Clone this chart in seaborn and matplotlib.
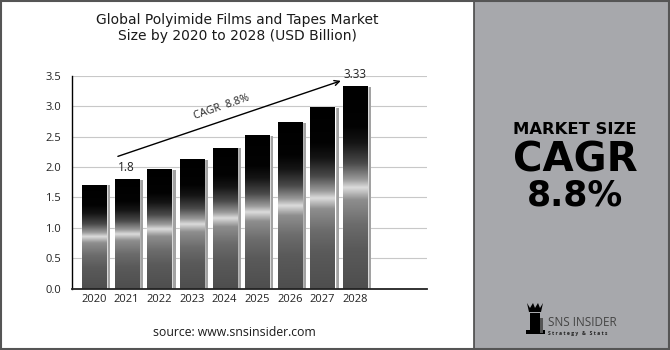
import numpy as np
import pandas as pd
import matplotlib
matplotlib.use("Agg")
import matplotlib.pyplot as plt
from matplotlib.patches import Rectangle, Polygon
from matplotlib.colors import LinearSegmentedColormap
import seaborn as sns

years = ["2020", "2021", "2022", "2023", "2024", "2025", "2026", "2027", "2028"]
values = [1.71, 1.80, 1.96, 2.13, 2.32, 2.52, 2.74, 2.98, 3.33]
y_ticks = [0.0, 0.5, 1.0, 1.5, 2.0, 2.5, 3.0, 3.5]
title = "Global Polyimide Films and Tapes Market\nSize by 2020 to 2028 (USD Billion)"
source = "source: www.snsinsider.com"
cagr_label = "CAGR  8.8%"
labelled = {"2021": "1.8", "2028": "3.33"}

sns.set_theme(style="white")
plt.rcParams["font.family"] = ["Open Sans", "DejaVu Sans"]

fig = plt.figure(figsize=(6.7, 3.5), dpi=100)
fig.patch.set_facecolor("white")

# right grey panel
fig.add_artist(Rectangle((474 / 670, 0), 1 - 474 / 670, 1, transform=fig.transFigure,
                         facecolor="#a7a8ac", edgecolor="#4a4a4a", lw=1.2, zorder=0))
# outer border
fig.add_artist(Rectangle((0.001, 0.002), 0.998, 0.996, transform=fig.transFigure,
                         facecolor="none", edgecolor="#555555", lw=1.5, zorder=5))

ax = fig.add_axes([72 / 670, (350 - 288.7) / 350, (427 - 72) / 670, 213 / 350])
ax.set_facecolor("none")

df = pd.DataFrame({"year": years, "value": values})
sns.barplot(data=df, x="year", y="value", ax=ax, width=0.74, color="black",
            saturation=1, zorder=2)

cmap = LinearSegmentedColormap.from_list("bar", [
    (0.00, "#4e4e4e"), (0.20, "#5a5a5a"), (0.32, "#6c6c6c"), (0.44, "#8e8e8e"),
    (0.50, "#dcdcdc"), (0.54, "#9a9a9a"), (0.62, "#4a4a4a"), (0.72, "#151515"),
    (0.80, "#030303"), (1.00, "#000000")])
grad = np.linspace(0, 1, 256).reshape(-1, 1)

for p in list(ax.patches):
    x0 = p.get_x()
    w = p.get_width()
    h = p.get_height()
    off = w * 0.17
    ax.add_patch(Rectangle((x0 + off, 0), w, h - 0.01, facecolor="#a2a2a2",
                           edgecolor="none", zorder=1.5))
    ax.add_patch(Rectangle((x0 + w, 0), off * 0.35, h - 0.01, facecolor="#d0d0d0",
                           edgecolor="none", zorder=1.6))
    im = ax.imshow(grad, extent=[x0, x0 + w, 0, h], origin="lower", cmap=cmap,
                   aspect="auto", zorder=2.1, interpolation="bilinear")
    im.set_clip_path(p)

for i, y in enumerate(years):
    if y in labelled:
        ax.text(i, values[i] + 0.08, labelled[y], ha="center", va="bottom",
                fontsize=8.5, color="#222222")

ax.annotate("", xy=(7.64, 3.43), xytext=(0.65, 2.16),
            arrowprops=dict(arrowstyle="->", color="black", lw=1.0, mutation_scale=9),
            zorder=4)
ax.text(3.9, 2.99, cagr_label, rotation=19, ha="center", va="center", fontsize=7.8,
        color="#222222", rotation_mode="anchor")

ax.set_xlim(-0.675, 10.2)
ax.set_ylim(0, 3.5)
ax.set_yticks(y_ticks)
ax.set_yticklabels([f"{t:.1f}" for t in y_ticks])
ax.yaxis.grid(True, color="#c8c8c8", lw=0.8, zorder=0.5)
ax.xaxis.grid(False)
ax.set_axisbelow(True)
ax.set_xlabel("")
ax.set_ylabel("")
for s in ["top", "right"]:
    ax.spines[s].set_visible(False)
ax.spines["left"].set_color("black")
ax.spines["bottom"].set_color("#222222")
ax.spines["left"].set_linewidth(1.0)
ax.spines["bottom"].set_linewidth(1.3)
ax.tick_params(axis="both", length=0, labelsize=8, colors="#222222")
ax.tick_params(axis="x", pad=4)
ax.tick_params(axis="y", pad=8)

fig.text(237 / 670, 1 - 28 / 350, title, ha="center", va="center", fontsize=10,
         color="#1a1a1a", linespacing=1.15, family=["DejaVu Sans"])
fig.text(234 / 670, 1 - 332 / 350, source, ha="center", va="center", fontsize=8.8,
         color="#1a1a1a")

fig.text(575 / 670, 1 - 134 / 350, "MARKET SIZE", ha="center", va="baseline",
         fontsize=11.8, fontweight="bold", color="black", family=["DejaVu Sans"])
fig.text(575 / 670, 1 - 172 / 350, "CAGR", ha="center", va="baseline",
         fontsize=29, fontweight="bold", color="black", family=["DejaVu Sans"])
fig.text(575 / 670, 1 - 206 / 350, "8.8%", ha="center", va="baseline",
         fontsize=25, fontweight="bold", color="black", family=["DejaVu Sans"])

# logo
fig.text(548 / 670, 1 - 322 / 350, "SNS INSIDER", ha="left", va="center",
         fontsize=8.5, color="#444444")
fig.text(548 / 670, 1 - 333 / 350, "S t r a t e g y   &   S t a t s", ha="left",
         va="center", fontsize=3.6, color="#222222", fontweight="bold")
def fx(px):
    return px / 670
def fy(py):
    return 1 - py / 350
fig.add_artist(Polygon([(fx(527), fy(303)), (fx(530), fy(308)), (fx(533), fy(303)),
                        (fx(535), fy(308)), (fx(538), fy(303)), (fx(540), fy(308)),
                        (fx(543), fy(303)), (fx(541), fy(312)), (fx(529), fy(312))],
                       closed=True, transform=fig.transFigure, facecolor="black",
                       edgecolor="none"))
fig.add_artist(Rectangle((fx(530), fy(330)), fx(10), fy(313) - fy(330),
                         transform=fig.transFigure, facecolor="black", edgecolor="none"))
fig.add_artist(Rectangle((fx(526), fy(334)), fx(19), fy(330) - fy(334),
                         transform=fig.transFigure, facecolor="black", edgecolor="none"))
fig.add_artist(Rectangle((fx(540), fy(333)), fx(3), fy(318) - fy(333),
                         transform=fig.transFigure, facecolor="#555555", edgecolor="none"))

fig.savefig("out.png", dpi=100)
